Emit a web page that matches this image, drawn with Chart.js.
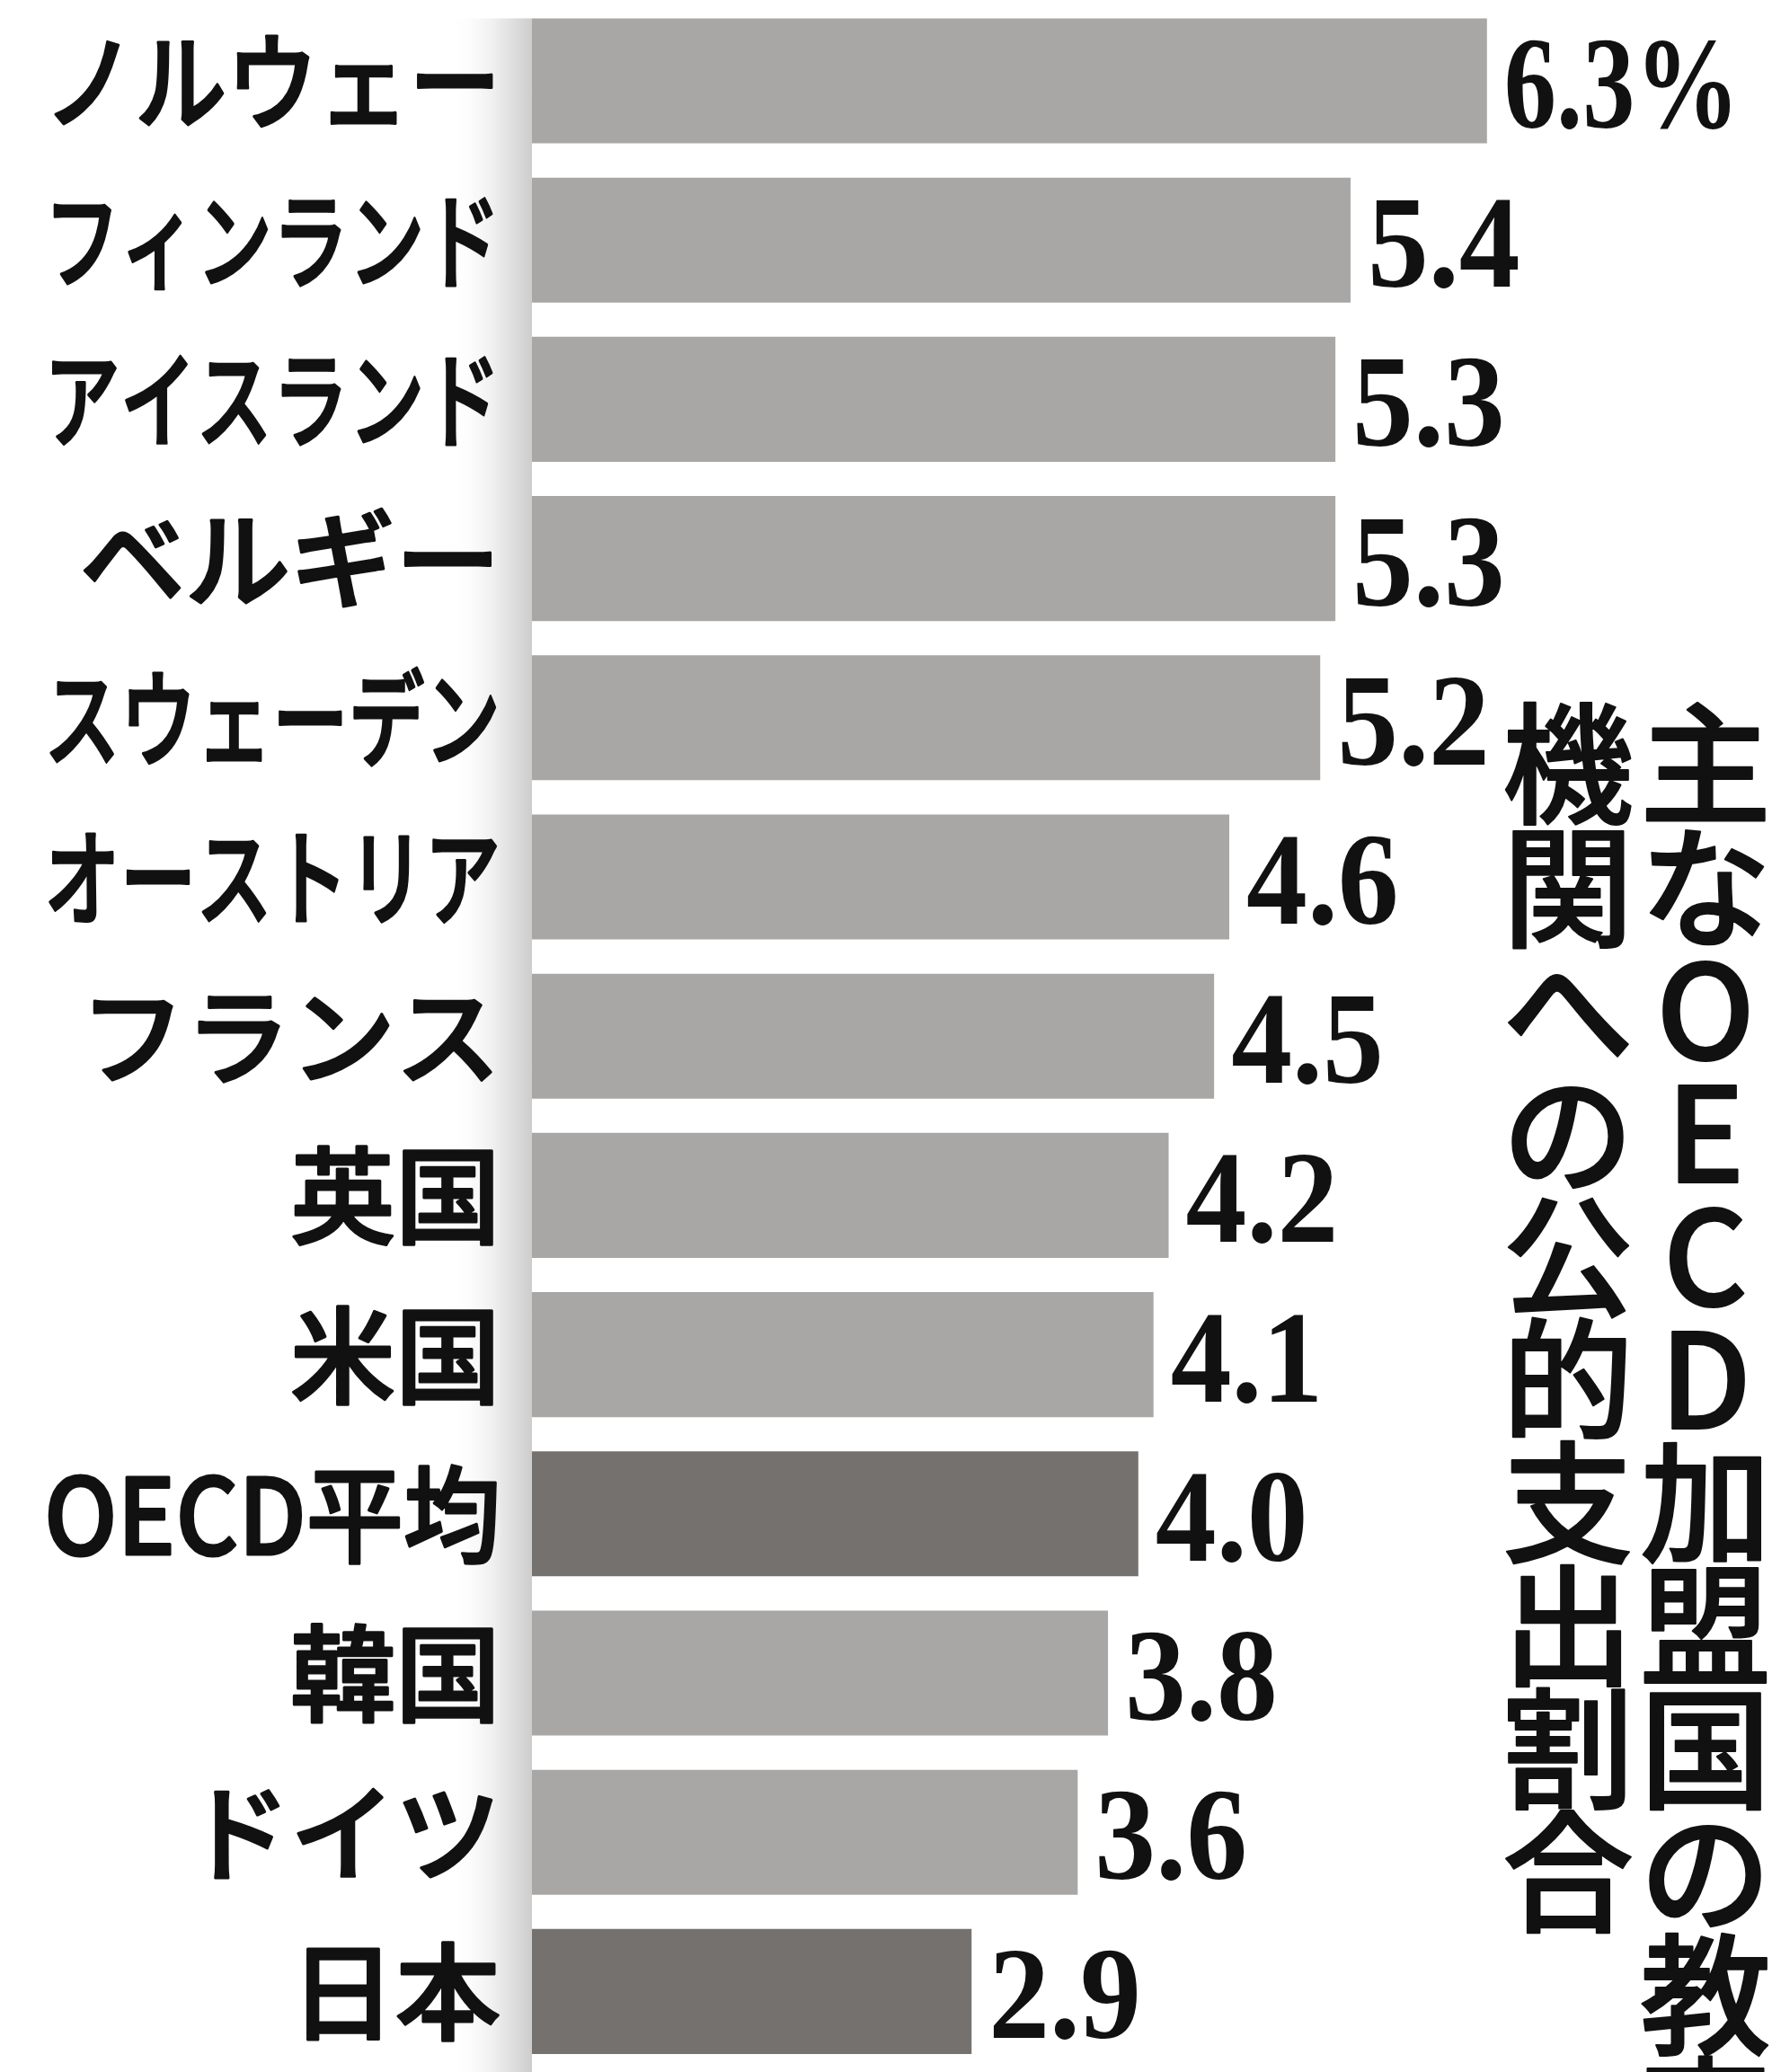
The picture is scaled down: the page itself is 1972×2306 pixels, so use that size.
<!DOCTYPE html>
<html lang="ja">
<head>
<meta charset="utf-8">
<title>主なOECD加盟国の教育機関への公的支出割合</title>
<script src="https://cdn.jsdelivr.net/npm/chart.js@4.4.1/dist/chart.umd.min.js"></script>
<style>
  html, body { margin: 0; padding: 0; background: #fff; overflow: hidden; }
  #wrap { width: 1972px; height: 2306px; position: relative; }
</style>
</head>
<body>
<div id="wrap"><canvas id="chart"></canvas></div>
<script>
const countries = [
  "ノルウェー", "フィンランド", "アイスランド", "ベルギー", "スウェーデン",
  "オーストリア", "フランス", "英国", "米国", "OECD平均", "韓国", "ドイツ", "日本",
];
const spending = [6.3, 5.4, 5.3, 5.3, 5.2, 4.6, 4.5, 4.2, 4.1, 4.0, 3.8, 3.6, 2.9];
const valueLabels = ["6.3%", "5.4", "5.3", "5.3", "5.2", "4.6", "4.5", "4.2", "4.1", "4.0", "3.8", "3.6", "2.9"];
const highlighted = ["OECD平均", "日本"];
// vertical title, read right column first
const titleRight = "主なOECD加盟国の教育";
const titleLeft = "機関への公的支出割合";

const LIGHT = "#a8a7a6";
const DARK = "#74716f";
const INK = "#111111";

// soft grey shadow running down the left edge of the bars
const shadowPlugin = {
  id: "foldShadow",
  beforeDatasetsDraw(chart) {
    const { ctx, chartArea } = chart;
    const first = chart.getDatasetMeta(0).data[0];
    const top = first.y - first.height / 2;
    const x0 = chartArea.left - 92;
    const g = ctx.createLinearGradient(x0, 0, chartArea.left, 0);
    g.addColorStop(0, "rgba(255,255,255,0)");
    g.addColorStop(0.55, "#eeeeee");
    g.addColorStop(1, "#cdcdcd");
    ctx.save();
    ctx.fillStyle = g;
    ctx.fillRect(x0, top, chartArea.left - x0, chart.height - top);
    ctx.restore();
  },
};

// fill plus a thin stroke, a weight between regular and bold
function heavyText(ctx, text, x, y, maxW, extra) {
  ctx.fillText(text, x, y, maxW);
  ctx.lineWidth = extra;
  ctx.strokeText(text, x, y, maxW);
}

// country names on the left, values at the end of each bar
const labelPlugin = {
  id: "barLabels",
  afterDatasetsDraw(chart) {
    const { ctx, chartArea } = chart;
    const yScale = chart.scales.y;
    const bars = chart.getDatasetMeta(0).data;
    ctx.save();
    ctx.fillStyle = INK;
    ctx.strokeStyle = INK;
    ctx.lineJoin = "round";
    ctx.textBaseline = "alphabetic";

    ctx.font = "500 117px 'Noto Sans CJK JP'";
    ctx.textAlign = "right";
    countries.forEach((name, i) => {
      const y = yScale.getPixelForValue(i);
      heavyText(ctx, name, chartArea.left - 35, y + 45, 508, 3);
    });

    ctx.font = "bold 146px 'Liberation Serif'";
    ctx.textAlign = "left";
    bars.forEach((bar, i) => {
      const x = bar.x + 19;
      const maxW = chart.width - 36 - x;
      ctx.save();
      ctx.translate(x, bar.y + 52);
      ctx.scale(0.93, 1);
      ctx.fillText(valueLabels[i], 0, 0, maxW / 0.93);
      ctx.restore();
    });
    ctx.restore();
  },
};

// title set vertically, one character per line
const titlePlugin = {
  id: "verticalTitle",
  afterDraw(chart) {
    const { ctx } = chart;
    ctx.save();
    ctx.font = "500 146px 'Noto Sans CJK JP'";
    ctx.fillStyle = INK;
    ctx.strokeStyle = INK;
    ctx.lineJoin = "round";
    ctx.textAlign = "center";
    ctx.textBaseline = "alphabetic";
    const columns = [[titleRight, 1898], [titleLeft, 1745]];
    columns.forEach(([text, cx]) => {
      Array.from(text).forEach((ch, i) => {
        heavyText(ctx, ch, cx, 850 + i * 137 + 55, undefined, 2);
      });
    });
    ctx.restore();
  },
};

new Chart(document.getElementById("chart"), {
  type: "bar",
  data: {
    labels: countries,
    datasets: [
      {
        data: spending,
        backgroundColor: countries.map((c) => (highlighted.includes(c) ? DARK : LIGHT)),
        borderWidth: 0,
        barPercentage: 0.785,
        categoryPercentage: 1,
      },
    ],
  },
  options: {
    indexAxis: "y",
    responsive: true,
    maintainAspectRatio: false,
    animation: false,
    layout: { padding: { left: 592, right: 30.4, top: 1.4, bottom: 1 } },
    scales: {
      x: { display: false, min: 0, max: 8 },
      y: { display: false },
    },
    plugins: {
      legend: { display: false },
      tooltip: { enabled: false },
    },
  },
  plugins: [shadowPlugin, labelPlugin, titlePlugin],
});
</script>
</body>
</html>
